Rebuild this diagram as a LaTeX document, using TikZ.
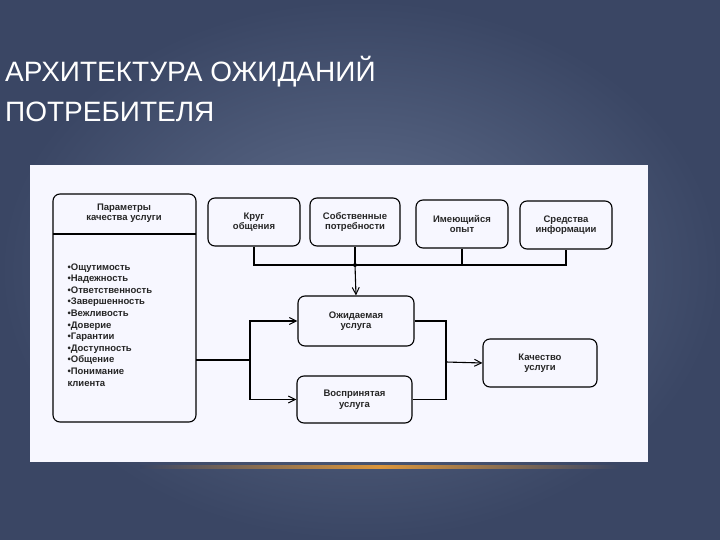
\documentclass[tikz,border=0pt]{standalone}
\usepackage{fontspec}
\setmainfont{Liberation Sans}
\usetikzlibrary{arrows.meta}
\begin{document}
\begin{tikzpicture}[x=1pt,y=-1pt,
  bx/.style={draw=black,line width=1.1pt,rounded corners=7pt},
  lbl/.style={font=\fontsize{9.5}{10.5}\selectfont\bfseries,align=center,text=black!85},
  ln/.style={line width=1.1pt,draw=black},
  arr/.style={ln,-{Straight Barb[length=7pt,width=7pt,line width=1pt]}}]
\useasboundingbox (0,0) rectangle (720,540);
\shade[inner color={rgb,255:red,98;green,112;blue,142},outer color={rgb,255:red,58;green,70;blue,100}] (0,0) rectangle (720,540);
\node[anchor=north west,text=white,font=\fontsize{28}{40}\selectfont,align=left,inner sep=0pt] (title) at (5,56) {АРХИТЕКТУРА ОЖИДАНИЙ\\ПОТРЕБИТЕЛЯ};
\fill[white!97!blue] (30,165) rectangle (648,462);
\shade[left color={rgb,255:red,58;green,70;blue,100},right color={rgb,255:red,58;green,70;blue,100},middle color={rgb,255:red,220;green,150;blue,60}] (140,465) rectangle (620,468);
% params
\draw[bx] (53,194) rectangle (196,422);
\coordinate (pr) at (196,360);
\draw[ln] (53,234) -- (196,234);
\node[lbl] (ph) at (124,213) {Параметры\\качества услуги};
\node[lbl,align=left,anchor=north west,font=\fontsize{9.5}{11.6}\selectfont\bfseries] (plist) at (64,260) {•Ощутимость\\•Надежность\\•Ответственность\\•Завершенность\\•Вежливость\\•Доверие\\•Гарантии\\•Доступность\\•Общение\\•Понимание\\клиента};
\node[bx,minimum width=92pt,minimum height=48pt,lbl] (krug) at (254,222) {Круг\\общения};
\node[bx,minimum width=90pt,minimum height=48pt,lbl] (sob) at (355,222) {Собственные\\потребности};
\node[bx,minimum width=92pt,minimum height=48pt,lbl] (im) at (462,224) {Имеющийся\\опыт};
\node[bx,minimum width=92pt,minimum height=48pt,lbl] (sr) at (566,225) {Средства\\информации};
\node[bx,minimum width=116pt,minimum height=50pt,lbl] (ozh) at (356,321) {Ожидаемая\\услуга};
\node[bx,minimum width=115pt,minimum height=47pt,lbl] (vos) at (354.5,399.5) {Воспринятая\\услуга};
\node[bx,minimum width=114pt,minimum height=48pt,lbl] (kach) at (540,363) {Качество\\услуги};
\coordinate (bus) at (355,265);
\draw[ln] (krug.south) |- (bus) -| (sr.south);
\draw[ln] (sob.south) -- (bus);
\draw[ln] (im.south) -- (im.south |- bus);
\fill (bus) circle (2pt);
\draw[arr] (bus) -- (ozh.north);
\coordinate (lj) at (250,360);
\draw[ln] (pr) -- (lj);
\draw[arr] (lj) |- (ozh.west);
\draw[arr] (lj) |- (vos.west);
\coordinate (rj) at (446,362);
\draw[ln] (ozh.east) -| (rj);
\draw[ln] (vos.east) -| (rj);
\draw[arr] (rj) -- (kach.west);
\end{tikzpicture}
\end{document}
